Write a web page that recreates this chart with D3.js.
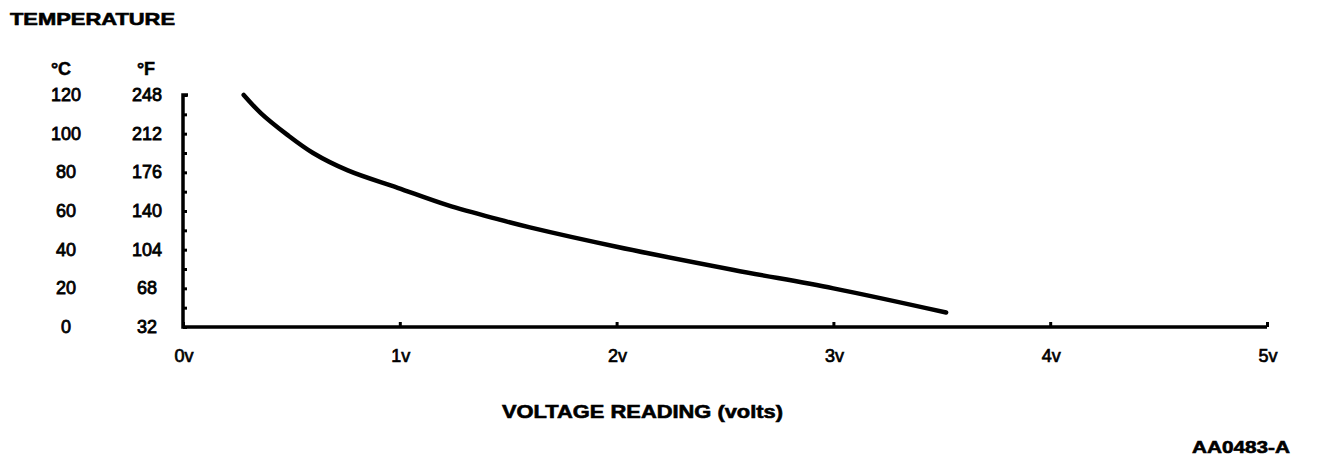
<!DOCTYPE html>
<html>
<head>
<meta charset="utf-8">
<script src="https://cdn.jsdelivr.net/npm/d3@7"></script>
<style>
  html, body { margin: 0; padding: 0; background: #fff; }
  svg { display: block; }
  text { font-family: "Liberation Sans", Arial, Helvetica, sans-serif; fill: #000; }
</style>
</head>
<body>
<svg id="chart" width="1328" height="464"></svg>
<script>
// ---- data ----
const curveVolts = [0.28, 0.36, 0.48, 0.60, 0.76, 0.99, 1.22, 1.46, 1.60, 2.00, 2.54, 3.00, 3.52];
const curveTempC = [120, 110.5, 99.5, 90, 81, 72, 63, 55.5, 51.5, 41.5, 29.5, 20, 7.5];
const celsiusTicks = [120, 100, 80, 60, 40, 20, 0];
const fahrenheitLabels = ["248", "212", "176", "140", "104", "68", "32"];
const minorTempTicks = [0, 10, 20, 30, 40, 50, 60, 70, 80, 90, 100, 110, 120];
const voltTicks = [0, 1, 2, 3, 4, 5];
const voltLabels = ["0v", "1v", "2v", "3v", "4v", "5v"];
const titleText = "TEMPERATURE";
const xTitleText = "VOLTAGE READING (volts)";
const codeText = "AA0483-A";

const svg = d3.select("#chart");
const x = d3.scaleLinear().domain([0, 5]).range([183, 1267]);
const y = d3.scaleLinear().domain([0, 120]).range([327, 95]);

// titles
svg.append("text").attr("x", 10).attr("y", 25).attr("font-size", 17).attr("font-weight", "bold")
  .attr("stroke", "#000").attr("stroke-width", 0.6)
  .attr("textLength", 165).attr("lengthAdjust", "spacingAndGlyphs").text(titleText);
svg.append("text").attr("x", 61).attr("y", 75).attr("font-size", 18).attr("font-weight", "bold")
  .attr("stroke", "#000").attr("stroke-width", 0.5)
  .attr("text-anchor", "middle").text("°C");
svg.append("text").attr("x", 146).attr("y", 75).attr("font-size", 18).attr("font-weight", "bold")
  .attr("stroke", "#000").attr("stroke-width", 0.5)
  .attr("text-anchor", "middle").text("°F");

// y tick labels
const yl = svg.append("g").attr("font-size", 18).attr("stroke", "#000").attr("stroke-width", 0.8);
yl.selectAll("text.c").data(celsiusTicks).join("text").attr("class", "c")
  .attr("x", 66).attr("y", d => y(d) + 6).attr("text-anchor", "middle").text(d => d);
yl.selectAll("text.f").data(celsiusTicks).join("text").attr("class", "f")
  .attr("x", 147).attr("y", d => y(d) + 6).attr("text-anchor", "middle").text((d, i) => fahrenheitLabels[i]);

// axes
const yAxis = d3.axisRight(y).tickValues(minorTempTicks).tickSize(4).tickFormat("");
const gy = svg.append("g").attr("transform", `translate(${x(0)},0)`).call(yAxis);
gy.select(".domain").remove();
gy.selectAll("line").attr("stroke", "#000").attr("stroke-width", 3);

const xAxis = d3.axisTop(x).tickValues(voltTicks).tickSize(5).tickFormat("");
const gx = svg.append("g").attr("transform", `translate(0,${y(0)})`).call(xAxis);
gx.select(".domain").remove();
gx.selectAll("line").attr("stroke", "#000").attr("stroke-width", 3);

svg.append("path")
  .attr("d", d3.line()([[x(0) + 5, y(120)], [x(0), y(120)], [x(0), y(0)], [x(5), y(0)]]))
  .attr("fill", "none").attr("stroke", "#000").attr("stroke-width", 3.5).attr("stroke-linejoin", "miter");

// x tick labels
svg.append("g").attr("font-size", 18).attr("stroke", "#000").attr("stroke-width", 0.7)
  .selectAll("text").data(voltTicks).join("text")
  .attr("x", d => x(d) + 1).attr("y", 362).attr("text-anchor", "middle").text((d, i) => voltLabels[i]);

// curve
const pts = curveVolts.map((v, i) => [x(v), y(curveTempC[i])]);
svg.append("path").attr("d", d3.line().curve(d3.curveCatmullRom.alpha(0.5))(pts))
  .attr("fill", "none").attr("stroke", "#000").attr("stroke-width", 4.5).attr("stroke-linecap", "round");

// bottom titles
svg.append("text").attr("x", 502).attr("y", 418).attr("font-size", 18).attr("font-weight", "bold")
  .attr("stroke", "#000").attr("stroke-width", 0.6)
  .attr("textLength", 281).attr("lengthAdjust", "spacingAndGlyphs").text(xTitleText);
svg.append("text").attr("x", 1192).attr("y", 453).attr("font-size", 17).attr("font-weight", "bold")
  .attr("stroke", "#000").attr("stroke-width", 0.6)
  .attr("textLength", 98).attr("lengthAdjust", "spacingAndGlyphs").text(codeText);
</script>
</body>
</html>
